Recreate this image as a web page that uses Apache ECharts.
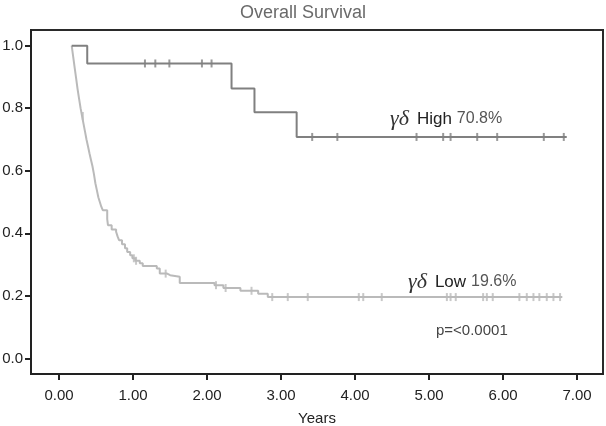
<!DOCTYPE html>
<html>
<head>
<meta charset="utf-8">
<script src="https://cdn.jsdelivr.net/npm/echarts@6/dist/echarts.min.js"></script>
<style>
html,body{margin:0;padding:0;background:#fff;}
#chart{width:606px;height:426px;}
</style>
</head>
<body>
<div id="chart"></div>
<script>
// ---- data ----
const title = 'Overall Survival';
const xTicks = [0, 1, 2, 3, 4, 5, 6, 7];
const yTicks = [0, 0.2, 0.4, 0.6, 0.8, 1.0];

// gamma-delta High: KM steps (time, survival)
const highTimes = [0.17, 0.38, 2.33, 2.64, 3.21, 6.86];
const highSurv  = [1.0, 0.943, 0.863, 0.787, 0.708, 0.708];
const highCensor = [1.16, 1.30, 1.49, 1.93, 2.06, 3.42, 3.76, 4.83, 5.19, 5.29, 5.65, 5.92, 6.55, 6.82];

// gamma-delta Low: KM steps
const lowTimes = [0.17, 0.19, 0.21, 0.23, 0.25, 0.27, 0.29, 0.31, 0.33, 0.35, 0.37, 0.39, 0.41, 0.43, 0.45, 0.47, 0.49, 0.51, 0.53, 0.55, 0.57, 0.59,
                  0.65, 0.66, 0.71, 0.77, 0.79, 0.81, 0.85, 0.89, 0.92, 0.96, 0.99, 1.03, 1.09, 1.13, 1.32, 1.36, 1.46, 1.50, 1.63,
                  2.10, 2.22, 2.45, 2.69, 2.82, 6.80];
const lowSurv  = [1.0, 0.965, 0.93, 0.895, 0.86, 0.83, 0.80, 0.775, 0.75, 0.725, 0.70, 0.678, 0.656, 0.635, 0.615, 0.59, 0.56, 0.538, 0.515, 0.50, 0.485, 0.474,
                  0.445, 0.426, 0.412, 0.405, 0.39, 0.378, 0.365, 0.352, 0.34, 0.330, 0.32, 0.312, 0.304, 0.295, 0.287, 0.271, 0.266, 0.261, 0.241,
                  0.234, 0.225, 0.216, 0.207, 0.196, 0.196];
const lowCensor = [0.32, 1.01, 1.04, 1.44, 2.12, 2.25, 2.60, 2.88, 3.09, 3.36, 4.05, 4.11, 4.36, 5.24, 5.29, 5.36, 5.73, 5.78, 5.86,
                   6.22, 6.32, 6.41, 6.49, 6.59, 6.68, 6.77];

const highLabel = ['γδ', 'High', '70.8%'];
const lowLabel  = ['γδ', 'Low', '19.6%'];
const pLabel = 'p=<0.0001';

// ---- build ----
function stepAt(times, surv, t) {
  let v = surv[0];
  for (let i = 0; i < times.length; i++) { if (times[i] <= t) v = surv[i]; }
  return v;
}
const highLine = highTimes.map((t, i) => [t, highSurv[i]]);
const lowLine = lowTimes.map((t, i) => [t, lowSurv[i]]);
const highMarks = highCensor.map(t => [t, stepAt(highTimes, highSurv, t)]);
const lowMarks = lowCensor.map(t => [t, stepAt(lowTimes, lowSurv, t)]);

const HIGH_C = '#808080';
const LOW_C = '#bababa';
const FONT = 'Liberation Sans, Arial, sans-serif';
const rich = {
  g: { fontFamily: 'Liberation Serif, serif', fontStyle: 'italic', fontSize: 22, fill: '#333' },
  s: { fontFamily: FONT, fontSize: 16, width: 8 },
  b: { fontFamily: FONT, fontSize: 17, fill: '#222' },
  t: { fontFamily: FONT, fontSize: 16, width: 5 },
  c: { fontFamily: FONT, fontSize: 16, fill: '#555' }
};
function annot(parts) {
  return '{g|' + parts[0] + '}{s| }{b|' + parts[1] + '}{t| }{c|' + parts[2] + '}';
}

const chart = echarts.init(document.getElementById('chart'));
chart.setOption({
  animation: false,
  backgroundColor: '#fff',
  title: {
    text: title, left: 'center', top: -1,
    textStyle: { fontFamily: FONT, fontSize: 18, fontWeight: 'normal', color: '#6a6a6a' }
  },
  grid: { left: 31, top: 30, right: 3, bottom: 52, show: true, borderColor: '#2a2a2a', borderWidth: 2,
          outerBoundsMode: 'none', containLabel: false },
  xAxis: {
    type: 'value', min: -0.38, max: 7.35,
    name: 'Years', nameLocation: 'middle', nameGap: 37,
    nameTextStyle: { fontFamily: FONT, fontSize: 15, color: '#222' },
    axisLine: { onZero: false, lineStyle: { color: '#222', width: 2 } },
    axisTick: { show: true, inside: false, length: 6, lineStyle: { color: '#222', width: 2 }, customValues: xTicks },
    axisLabel: { fontFamily: FONT, fontSize: 15, color: '#222', margin: 14, customValues: xTicks,
                 formatter: v => v.toFixed(2) },
    splitLine: { show: false }
  },
  yAxis: {
    type: 'value', min: -0.05, max: 1.05,
    axisLine: { onZero: false, lineStyle: { color: '#222', width: 2 } },
    axisTick: { show: true, inside: false, length: 6, lineStyle: { color: '#222', width: 2 }, customValues: yTicks },
    axisLabel: { fontFamily: FONT, fontSize: 15, color: '#222', margin: 8, customValues: yTicks,
                 formatter: v => v.toFixed(1) },
    splitLine: { show: false }
  },
  series: [
    { type: 'line', step: 'end', data: lowLine, showSymbol: false, symbol: 'none',
      lineStyle: { color: LOW_C, width: 2 }, z: 2 },
    { type: 'scatter', data: lowMarks, symbol: 'rect', symbolSize: [2, 8],
      itemStyle: { color: LOW_C }, z: 3 },
    { type: 'line', step: 'end', data: highLine, showSymbol: false, symbol: 'none',
      lineStyle: { color: HIGH_C, width: 2 }, z: 4 },
    { type: 'scatter', data: highMarks, symbol: 'rect', symbolSize: [2, 8],
      itemStyle: { color: HIGH_C }, z: 5 }
  ],
  graphic: [
    { type: 'text', x: 390, y: 119, style: { text: annot(highLabel), rich: rich, verticalAlign: 'middle' } },
    { type: 'text', x: 408, y: 282, style: { text: annot(lowLabel), rich: rich, verticalAlign: 'middle' } },
    { type: 'text', x: 436, y: 331, style: { text: pLabel, fontFamily: FONT, fontSize: 15, fill: '#444', verticalAlign: 'middle' } }
  ]
});
</script>
</body>
</html>
